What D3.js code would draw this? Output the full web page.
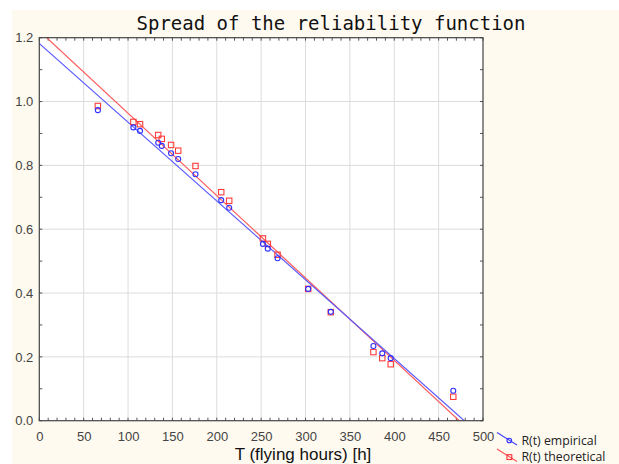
<!DOCTYPE html>
<html>
<head>
<meta charset="utf-8">
<script src="https://cdn.jsdelivr.net/npm/d3@7"></script>
<style>
  body { margin: 0; background: #ffffff; }
  svg { display: block; }
</style>
</head>
<body>
<svg id="chart"></svg>
<script>
// flying hours
var hours = [66, 106, 113.5, 134, 138, 148.5, 156.5, 176, 205, 214, 252, 257.5, 268.5, 303, 328.5, 376.5, 386.5, 396, 466.5]
var empirical = [0.973, 0.919, 0.908, 0.871, 0.861, 0.838, 0.820, 0.772, 0.691, 0.667, 0.554, 0.539, 0.509, 0.413, 0.341, 0.234, 0.211, 0.196, 0.094]
var theoretical = [0.986, 0.936, 0.929, 0.895, 0.883, 0.864, 0.846, 0.798, 0.716, 0.689, 0.571, 0.554, 0.520, 0.413, 0.340, 0.215, 0.196, 0.177, 0.075]

// fitted lines: [intercept, slope]
var fitEmpirical = [1.182, -0.002468]
var fitTheoretical = [1.2214, -0.002581]

var xTicks = [0, 50, 100, 150, 200, 250, 300, 350, 400, 450, 500]
var yTicks = [0, 0.2, 0.4, 0.6, 0.8, 1.0, 1.2]
var seriesNames = ["R(t) empirical", "R(t) theoretical"]

var dimensions = {
    width: 619,
    height: 464,
    margin: { top: 37.7, bottom: 43.3, left: 39.3, right: 136 }
}

var svg = d3.select("#chart")
    .attr("width", dimensions.width)
    .attr("height", dimensions.height)

// cream panel
svg.append("rect")
    .attr("x", 12).attr("y", 10)
    .attr("width", dimensions.width - 12)
    .attr("height", dimensions.height - 10)
    .attr("fill", "#fffaf0")

var xScale = d3.scaleLinear()
    .domain([0, 500])
    .range([dimensions.margin.left, dimensions.width - dimensions.margin.right])

var yScale = d3.scaleLinear()
    .domain([0, 1.2])
    .range([dimensions.height - dimensions.margin.bottom, dimensions.margin.top])

var x0 = xScale(0), x1 = xScale(500), y0 = yScale(0), y1 = yScale(1.2)

svg.append("rect")
    .attr("x", x0).attr("y", y1)
    .attr("width", x1 - x0).attr("height", y0 - y1)
    .attr("fill", "#ffffff")

// grid
svg.append("g").selectAll("line")
    .data(xTicks.slice(1, -1))
    .enter().append("line")
    .attr("x1", d => xScale(d)).attr("x2", d => xScale(d))
    .attr("y1", y1).attr("y2", y0)
    .attr("stroke", "#dcdcdc")
svg.append("g").selectAll("line")
    .data(yTicks.slice(1, -1))
    .enter().append("line")
    .attr("x1", x0).attr("x2", x1)
    .attr("y1", d => yScale(d)).attr("y2", d => yScale(d))
    .attr("stroke", "#dcdcdc")

// minor ticks inside frame
var xMinor = d3.range(0, 501, 10)
var yMinor = d3.range(0, 13).map(i => i / 10)
var tickG = svg.append("g").attr("stroke", "#555")
xMinor.forEach(function (d) {
    tickG.append("line").attr("x1", xScale(d)).attr("x2", xScale(d)).attr("y1", y0).attr("y2", y0 - 3)
    tickG.append("line").attr("x1", xScale(d)).attr("x2", xScale(d)).attr("y1", y1).attr("y2", y1 + 3)
})
yMinor.forEach(function (d) {
    tickG.append("line").attr("y1", yScale(d)).attr("y2", yScale(d)).attr("x1", x0).attr("x2", x0 + 3)
    tickG.append("line").attr("y1", yScale(d)).attr("y2", yScale(d)).attr("x1", x1).attr("x2", x1 - 3)
})

// tick labels
var xAxisGen = d3.axisBottom(xScale).tickValues(xTicks).tickSize(0).tickPadding(11)
var xAxis = svg.append("g")
    .attr("transform", "translate(0," + y0 + ")")
    .call(xAxisGen)
xAxis.select(".domain").remove()
xAxis.selectAll("text")
    .style("font-family", "'Liberation Sans', Arial, sans-serif")
    .style("font-size", "13px")
    .attr("fill", "#444")

var yAxisGen = d3.axisLeft(yScale).tickValues(yTicks).tickSize(0).tickPadding(6).tickFormat(d3.format(".1f"))
var yAxis = svg.append("g")
    .attr("transform", "translate(" + x0 + ",0)")
    .call(yAxisGen)
yAxis.select(".domain").remove()
yAxis.selectAll("text")
    .style("font-family", "'Liberation Sans', Arial, sans-serif")
    .style("font-size", "13px")
    .attr("fill", "#444")

// fitted lines, clipped to plot
svg.append("clipPath").attr("id", "plotclip")
    .append("rect").attr("x", x0).attr("y", y1).attr("width", x1 - x0).attr("height", y0 - y1)

var fitLine = d3.line().x(d => xScale(d[0])).y(d => yScale(d[1]))
function fitPoints(fit) {
    return [[-20, fit[0] + fit[1] * -20], [520, fit[0] + fit[1] * 520]]
}
var plot = svg.append("g").attr("clip-path", "url(#plotclip)")
plot.append("path")
    .attr("d", fitLine(fitPoints(fitTheoretical)))
    .attr("stroke", "#ff5a5a").attr("stroke-width", 1.2).attr("fill", "none")
plot.append("path")
    .attr("d", fitLine(fitPoints(fitEmpirical)))
    .attr("stroke", "#5a5aff").attr("stroke-width", 1.2).attr("fill", "none")

// markers
var pts = hours.map((h, i) => ({ t: h, e: empirical[i], th: theoretical[i] }))
svg.append("g").selectAll("rect")
    .data(pts)
    .enter().append("rect")
    .attr("x", d => xScale(d.t) - 2.7)
    .attr("y", d => yScale(d.th) - 2.7)
    .attr("width", 5.4).attr("height", 5.4)
    .attr("fill", "none").attr("stroke", "#ff3b3b").attr("stroke-width", 1.1)
svg.append("g").selectAll("circle")
    .data(pts)
    .enter().append("circle")
    .attr("cx", d => xScale(d.t))
    .attr("cy", d => yScale(d.e))
    .attr("r", 2.5)
    .attr("fill", "none").attr("stroke", "#2f2fff").attr("stroke-width", 1.1)

// frame
svg.append("rect")
    .attr("x", x0).attr("y", y1)
    .attr("width", x1 - x0).attr("height", y0 - y1)
    .attr("fill", "none").attr("stroke", "#444").attr("stroke-width", 1.2)

// title
svg.append("text")
    .attr("x", 331).attr("y", 30)
    .attr("text-anchor", "middle")
    .style("font-family", "'DejaVu Sans Mono', monospace")
    .style("font-size", "19px")
    .attr("fill", "#111")
    .text("Spread of the reliability function")

// x axis title
svg.append("text")
    .attr("x", 303).attr("y", 460)
    .attr("text-anchor", "middle")
    .style("font-family", "'Liberation Sans', Arial, sans-serif")
    .style("font-size", "17px")
    .attr("fill", "#111")
    .text("T (flying hours) [h]")

// legend
var legendColors = [["#4040ff", "#3030ff"], ["#ff5050", "#ff3030"]]
seriesNames.forEach(function (name, i) {
    var g = svg.append("g").attr("transform", "translate(0," + (i * 16.5) + ")")
    g.append("line")
        .attr("x1", 497).attr("y1", 432.5).attr("x2", 517).attr("y2", 445)
        .attr("stroke", legendColors[i][0]).attr("stroke-width", 1.2)
    if (i == 0) {
        g.append("circle").attr("cx", 509.3).attr("cy", 440.5).attr("r", 2.3)
            .attr("fill", "none").attr("stroke", legendColors[i][1]).attr("stroke-width", 1.1)
    } else {
        g.append("rect").attr("x", 507).attr("y", 438.2).attr("width", 4.8).attr("height", 4.8)
            .attr("fill", "none").attr("stroke", legendColors[i][1]).attr("stroke-width", 1.1)
    }
    g.append("text")
        .attr("x", 521.5).attr("y", 444.5)
        .style("font-family", "'Open Sans', sans-serif")
        .style("font-size", "12.3px")
        .attr("fill", "#222")
        .text(name)
})
</script>
</body>
</html>
